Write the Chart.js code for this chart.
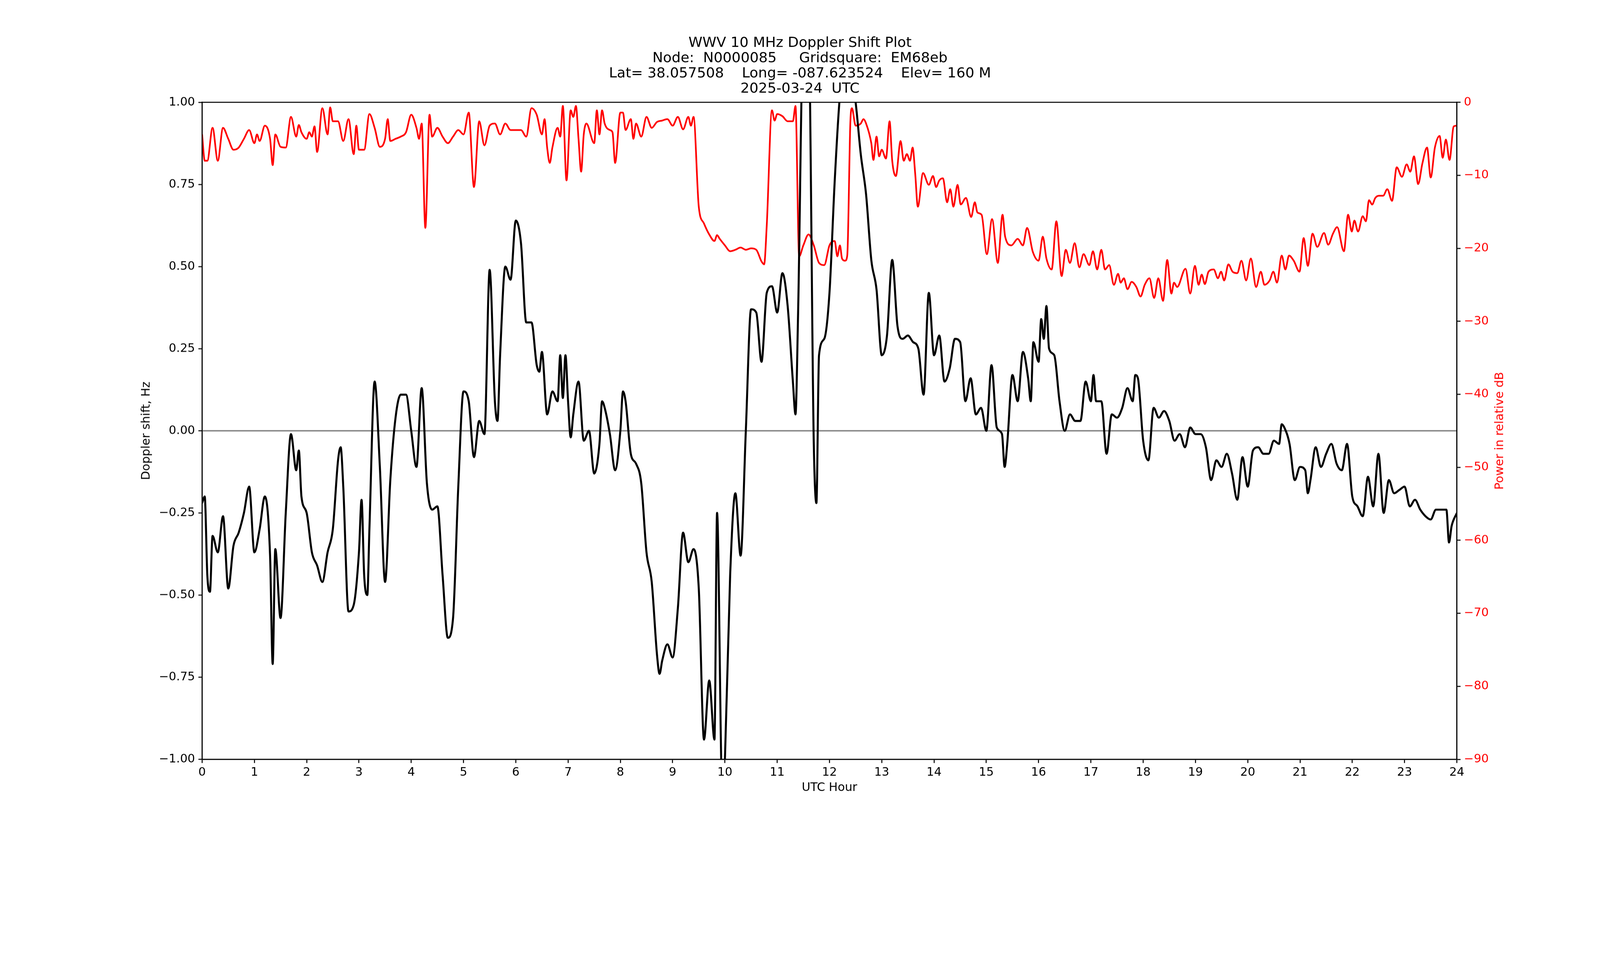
<!DOCTYPE html>
<html><head><meta charset="utf-8">
<script src="https://cdn.jsdelivr.net/npm/chart.js@4/dist/chart.umd.min.js"></script>
<style>html,body{margin:0;padding:0;background:#fff;overflow:hidden}canvas{display:block}</style>
</head><body>
<canvas id="c"></canvas>
<script>
// Doppler shift (Hz) vs UTC hour
const dopHours = [0,0.05,0.1,0.15,0.2,0.3,0.4,0.5,0.6,0.7,0.8,0.9,1.0,1.1,1.2,1.3,1.35,1.4,1.5,1.6,1.7,1.8,1.85,1.9,2.0,2.1,2.2,2.3,2.4,2.5,2.6,2.65,2.7,2.8,2.9,3.0,3.05,3.1,3.16,3.2,3.3,3.4,3.5,3.6,3.7,3.8,3.9,4.0,4.1,4.2,4.3,4.4,4.5,4.6,4.7,4.8,4.9,5.0,5.1,5.2,5.3,5.4,5.5,5.6,5.65,5.7,5.8,5.9,6.0,
  6.1,6.2,6.3,6.4,6.45,6.5,6.6,6.7,6.8,6.85,6.9,6.95,7.0,7.05,7.1,7.2,7.3,7.4,7.5,7.6,7.65,7.7,7.8,7.9,8.0,8.05,8.1,8.2,8.3,8.4,8.5,8.6,8.7,8.75,8.8,8.9,9.0,9.1,9.2,9.3,9.4,9.5,9.6,9.7,9.8,9.85,9.95,10.0,10.1,10.2,10.3,10.4,10.5,10.6,10.7,10.8,10.9,11.0,11.1,11.2,11.3,11.35,11.4,11.5,11.6,11.7,11.75,11.8,11.9,12.0,12.1,12.2,
  12.3,12.4,12.5,12.6,12.7,12.8,12.9,13.0,13.1,13.2,13.3,13.4,13.5,13.6,13.7,13.8,13.9,14.0,14.1,14.2,14.3,14.4,14.5,14.6,14.7,14.8,14.9,15.0,15.1,15.2,15.3,15.35,15.4,15.5,15.6,15.7,15.8,15.85,15.9,16.0,16.05,16.1,16.15,16.2,16.3,16.4,16.5,16.6,16.7,16.8,16.9,17.0,17.05,17.1,17.2,17.3,17.4,17.5,17.6,17.7,17.8,17.85,17.9,18.0,18.1,18.2,18.3,
  18.4,18.5,18.6,18.7,18.8,18.9,19.0,19.1,19.2,19.3,19.4,19.5,19.6,19.7,19.8,19.9,20.0,20.1,20.2,20.3,20.4,20.5,20.6,20.65,20.7,20.8,20.9,21.0,21.1,21.15,21.2,21.3,21.4,21.5,21.6,21.7,21.8,21.9,22.0,22.1,22.2,22.3,22.4,22.5,22.6,22.7,22.8,22.9,23.0,23.1,23.2,23.3,23.4,23.5,23.6,23.7,23.8,23.85,23.9,24.0];
const dopHz = [-0.22,-0.2,-0.44,-0.49,-0.32,-0.37,-0.26,-0.48,-0.35,-0.31,-0.25,-0.17,-0.37,-0.30,-0.20,-0.38,-0.71,-0.36,-0.57,-0.25,-0.01,-0.12,-0.06,-0.20,-0.25,-0.37,-0.41,-0.46,-0.37,-0.30,-0.09,-0.05,-0.17,-0.55,-0.53,-0.37,-0.21,-0.44,-0.50,-0.30,0.15,-0.11,-0.46,-0.15,0.04,0.11,0.11,0.0,-0.11,0.13,-0.16,-0.24,-0.23,-0.44,-0.63,-0.57,-0.17,0.12,0.09,-0.08,0.03,-0.01,0.49,0.09,0.03,0.23,0.50,0.46,0.64,
  0.57,0.33,0.33,0.20,0.18,0.24,0.05,0.12,0.09,0.23,0.10,0.23,0.09,-0.02,0.05,0.15,-0.03,0.0,-0.13,-0.04,0.09,0.07,-0.01,-0.12,0.0,0.12,0.09,-0.07,-0.10,-0.16,-0.37,-0.46,-0.68,-0.74,-0.70,-0.65,-0.69,-0.54,-0.31,-0.40,-0.36,-0.48,-0.94,-0.76,-0.94,-0.25,-1.1,-1.0,-0.44,-0.19,-0.38,0.0,0.37,0.36,0.21,0.42,0.44,0.36,0.48,0.38,0.15,0.05,0.36,1.2,1.2,-0.04,-0.22,0.23,0.28,0.42,0.76,1.02,
  1.1,1.1,1.0,0.84,0.72,0.52,0.43,0.23,0.29,0.52,0.32,0.28,0.29,0.27,0.25,0.11,0.42,0.23,0.29,0.15,0.19,0.28,0.27,0.09,0.16,0.05,0.07,0.0,0.20,0.01,-0.01,-0.11,-0.04,0.17,0.09,0.24,0.16,0.09,0.27,0.21,0.34,0.28,0.38,0.25,0.23,0.09,0.0,0.05,0.03,0.03,0.15,0.09,0.17,0.09,0.09,-0.07,0.05,0.04,0.07,0.13,0.09,0.17,0.16,-0.03,-0.09,0.07,0.04,
  0.06,0.03,-0.03,-0.01,-0.05,0.01,-0.01,-0.01,-0.05,-0.15,-0.09,-0.11,-0.07,-0.13,-0.21,-0.08,-0.17,-0.06,-0.05,-0.07,-0.07,-0.03,-0.04,0.02,0.01,-0.04,-0.15,-0.11,-0.12,-0.19,-0.15,-0.05,-0.11,-0.07,-0.04,-0.10,-0.12,-0.04,-0.20,-0.23,-0.26,-0.14,-0.23,-0.07,-0.25,-0.15,-0.19,-0.18,-0.17,-0.23,-0.21,-0.24,-0.26,-0.27,-0.24,-0.24,-0.24,-0.34,-0.29,-0.25];

// Received power (relative dB) vs UTC hour
const pwrHours = [0,0.05,0.1,0.2,0.3,0.4,0.5,0.6,0.7,0.8,0.9,1.0,1.05,1.1,1.2,1.3,1.35,1.4,1.5,1.6,1.7,1.8,1.85,1.9,2.0,2.05,2.1,2.15,2.2,2.3,2.4,2.45,2.5,2.6,2.7,2.8,2.9,2.95,3.0,3.1,3.2,3.3,3.4,3.5,3.55,3.6,3.7,3.8,3.9,4.0,4.1,4.15,4.2,4.27,4.35,4.4,4.5,4.6,4.7,4.8,4.9,5.0,5.1,5.2,5.3,5.4,5.5,5.6,5.7,5.8,5.9,6.0,6.1,
  6.2,6.3,6.4,6.5,6.55,6.6,6.65,6.7,6.8,6.85,6.9,6.97,7.05,7.1,7.15,7.2,7.25,7.3,7.35,7.5,7.55,7.6,7.65,7.7,7.8,7.85,7.9,8.0,8.05,8.1,8.2,8.25,8.3,8.4,8.5,8.6,8.7,8.8,8.9,9.0,9.1,9.2,9.3,9.35,9.4,9.5,9.6,9.7,9.8,9.85,9.9,10.0,10.1,10.2,10.3,10.4,10.5,10.6,10.7,10.75,10.8,10.9,10.95,11.0,11.1,11.2,11.3,11.35,11.42,11.5,11.6,11.7,11.8,11.9,12.0,12.1,12.15,
  12.2,12.24,12.3,12.34,12.4,12.43,12.5,12.6,12.65,12.7,12.8,12.84,12.9,12.95,13.0,13.08,13.15,13.2,13.27,13.36,13.42,13.48,13.54,13.59,13.64,13.69,13.79,13.9,13.98,14.04,14.1,14.17,14.25,14.31,14.37,14.45,14.51,14.61,14.71,14.78,14.83,14.91,15.01,15.11,15.22,15.31,15.36,15.48,15.6,15.7,15.78,15.89,16.0,16.08,16.15,16.25,16.34,16.44,16.52,16.6,16.69,16.78,16.86,16.97,17.04,17.12,17.2,17.27,17.35,17.44,17.52,17.57,17.63,17.7,17.78,17.87,17.95,18.03,18.12,
  18.21,18.29,18.38,18.46,18.54,18.59,18.65,18.81,18.9,18.99,19.06,19.12,19.18,19.25,19.35,19.43,19.49,19.55,19.63,19.71,19.8,19.88,19.97,20.06,20.16,20.25,20.32,20.42,20.49,20.56,20.65,20.72,20.79,20.88,20.99,21.07,21.15,21.24,21.33,21.46,21.54,21.63,21.71,21.84,21.92,21.99,22.04,22.11,22.2,22.26,22.32,22.38,22.44,22.51,22.59,22.67,22.76,22.85,22.95,23.04,23.11,23.18,23.26,23.34,23.43,23.5,23.58,23.67,23.73,23.79,23.86,23.94,24.0];
const pwrDb = [-4.4,-8.0,-8.0,-3.5,-8.0,-3.5,-5.0,-6.5,-6.2,-5.0,-3.8,-5.6,-4.4,-5.3,-3.2,-5.0,-8.6,-4.4,-6.1,-6.2,-2.0,-4.7,-3.1,-4.1,-5.0,-4.1,-4.7,-3.3,-6.8,-0.8,-4.4,-0.7,-2.6,-2.6,-5.3,-2.3,-7.1,-3.2,-6.5,-6.5,-1.6,-3.5,-6.1,-5.0,-2.3,-5.3,-5.0,-4.7,-4.1,-1.7,-3.5,-5.0,-2.9,-17.2,-1.7,-4.7,-3.5,-4.7,-5.6,-4.7,-3.8,-4.4,-1.4,-11.6,-2.6,-5.9,-3.2,-2.9,-4.4,-2.9,-3.8,-3.8,-3.8,
  -4.7,-0.8,-1.7,-4.4,-2.3,-6.2,-8.3,-6.2,-3.5,-4.7,-0.5,-10.7,-1.1,-2.0,-0.5,-5.0,-9.5,-4.4,-2.9,-5.6,-1.1,-4.4,-1.1,-2.9,-3.8,-4.1,-8.3,-1.4,-1.4,-3.8,-2.3,-5.0,-2.9,-4.7,-2.0,-3.5,-2.7,-2.5,-2.3,-3.2,-2.0,-3.7,-2.0,-3.2,-2.0,-14.3,-16.6,-18.1,-19.0,-18.2,-18.7,-19.6,-20.4,-20.2,-19.9,-20.2,-20.0,-20.2,-21.8,-22.2,-16.9,-1.1,-2.5,-1.6,-1.9,-2.6,-2.6,-0.5,-21.1,-19.6,-18.1,-19.6,-22.0,-22.3,-19.6,-19.0,-21.1,
  -19.6,-21.4,-21.7,-21.0,-2.6,-0.8,-3.2,-2.9,-2.3,-2.9,-5.6,-7.9,-4.7,-7.4,-6.5,-7.7,-2.6,-8.0,-10.1,-5.3,-8.0,-7.1,-8.0,-6.2,-9.8,-14.3,-9.7,-11.3,-10.1,-11.6,-10.7,-10.4,-13.7,-11.9,-14.3,-11.3,-14.0,-13.1,-15.7,-13.7,-15.1,-15.4,-20.8,-16.0,-22.0,-15.4,-18.4,-19.6,-18.7,-19.6,-17.2,-20.5,-21.7,-18.4,-21.4,-22.9,-16.3,-23.8,-20.2,-22.0,-19.3,-22.6,-20.8,-22.3,-20.4,-22.9,-20.2,-22.9,-22.3,-25.0,-23.5,-24.7,-24.1,-25.6,-24.6,-25.3,-26.6,-25.0,-24.1,
  -26.8,-24.1,-27.2,-21.6,-26.2,-24.7,-25.3,-22.8,-26.2,-22.4,-25.0,-23.6,-24.9,-23.2,-22.9,-24.1,-23.2,-24.4,-22.2,-23.2,-23.4,-21.7,-24.4,-21.4,-25.3,-23.2,-25.0,-24.4,-23.2,-24.7,-21.0,-22.9,-21.0,-21.7,-23.2,-18.6,-22.4,-18.0,-19.8,-17.9,-19.5,-18.0,-17.1,-20.4,-15.4,-17.7,-16.2,-17.7,-15.6,-16.3,-13.4,-14.0,-13.1,-12.8,-12.8,-11.9,-13.5,-8.9,-10.2,-8.5,-9.5,-7.4,-11.2,-8.4,-6.2,-10.3,-6.2,-4.6,-7.6,-5.1,-7.9,-3.3,-3.2];

const titleLines = ['WWV 10 MHz Doppler Shift Plot', 'Node:  N0000085     Gridsquare:  EM68eb', 'Lat= 38.057508    Long= -087.623524    Elev= 160 M', '2025-03-24  UTC'];
const xTitle = 'UTC Hour';
const yTitle = 'Doppler shift, Hz';
const y1Title = 'Power in relative dB';

const FONT = 'DejaVu Sans';
const minus = v => String(v).replace('-', '\u2212');

// the page may not be 1 CSS px per image px; lay out in image px and scale
const W = window.innerWidth;
const K = W / 4750;
const H = 2500 * K;
const px = v => v * K;

const cv = document.getElementById('c');
cv.style.width = W + 'px';
cv.style.height = H + 'px';
cv.width = W; cv.height = H;

// frame around the plot plus axis titles placed like matplotlib
const frame = {
  id: 'frame',
  afterDatasetsDraw(chart) {
    const a = chart.chartArea, c = chart.ctx;
    c.save();
    c.strokeStyle = '#000';
    c.lineWidth = px(3);
    c.strokeRect(a.left, a.top, a.right - a.left, a.bottom - a.top);
    c.font = px(35) + 'px "' + FONT + '"';
    c.textAlign = 'center';
    c.textBaseline = 'middle';
    c.fillStyle = '#000';
    c.fillText(xTitle, (a.left + a.right) / 2, px(2337));
    const midY = (a.top + a.bottom) / 2;
    c.save();
    c.translate(px(435), midY); c.rotate(-Math.PI / 2);
    c.fillText(yTitle, 0, 0);
    c.restore();
    c.save();
    c.fillStyle = '#ff0000';
    c.translate(px(4453), midY); c.rotate(-Math.PI / 2);
    c.fillText(y1Title, 0, 0);
    c.restore();
    c.restore();
  }
};

new Chart(cv, {
  type: 'line',
  data: {
    datasets: [
      {
        label: 'Doppler',
        data: dopHours.map((h, i) => ({x: h, y: dopHz[i]})),
        borderColor: '#000', borderWidth: px(6), pointRadius: 0,
        cubicInterpolationMode: 'monotone', yAxisID: 'y', order: 1
      },
      {
        label: 'Power',
        data: pwrHours.map((h, i) => ({x: h, y: pwrDb[i]})),
        borderColor: '#ff0000', borderWidth: px(5), pointRadius: 0,
        cubicInterpolationMode: 'monotone', yAxisID: 'y1', order: 2
      }
    ]
  },
  options: {
    responsive: false, animation: false,
    layout: {padding: 0},
    plugins: {
      legend: {display: false}, tooltip: {enabled: false},
      title: {display: true, text: titleLines, color: '#000',
        font: {family: FONT, size: px(42), weight: 'normal', lineHeight: 1.08},
        padding: {top: px(105), bottom: px(17)}}
    },
    scales: {
      x: {
        type: 'linear', min: 0, max: 24,
        afterFit: s => { s.height = H - px(2253); },
        ticks: {stepSize: 1, color: '#000', font: {family: FONT, size: px(35)}, padding: px(8), maxRotation: 0},
        grid: {drawOnChartArea: false, tickLength: px(11), tickColor: '#000', tickWidth: px(3)},
        border: {color: '#000', width: px(3)}
      },
      y: {
        position: 'left', min: -1, max: 1,
        afterFit: s => { s.width = px(600); },
        ticks: {stepSize: 0.25, color: '#000', font: {family: FONT, size: px(35)}, padding: px(10),
          callback: v => minus(v.toFixed(2))},
        grid: {drawOnChartArea: true, tickLength: px(11), tickWidth: px(3),
          tickColor: '#000',
          color: ctx => (ctx.tick && ctx.tick.value === 0) ? '#808080' : 'rgba(0,0,0,0)',
          lineWidth: ctx => (ctx.tick && ctx.tick.value === 0) ? px(4) : 0},
        border: {color: '#000', width: px(3)}
      },
      y1: {
        position: 'right', min: -90, max: 0,
        afterFit: s => { s.width = W - px(4325); },
        ticks: {stepSize: 10, color: '#ff0000', font: {family: FONT, size: px(35)}, padding: px(10),
          callback: v => minus(v)},
        grid: {drawOnChartArea: false, tickLength: px(11), tickColor: '#000', tickWidth: px(3)},
        border: {color: '#000', width: px(3)}
      }
    }
  },
  plugins: [frame]
});
</script>
</body></html>
